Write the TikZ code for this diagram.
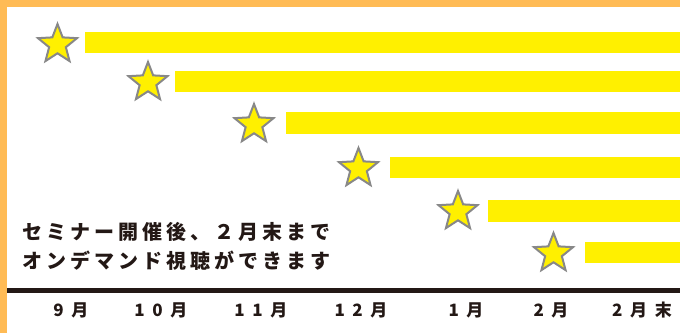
\documentclass[tikz,border=0pt]{standalone}
\usepackage{fontspec}
\newfontfamily\jptext{Noto Sans CJK JP}[LetterSpace=20]
\newfontfamily\jpmonth{Noto Sans CJK JP}[LetterSpace=45]
\definecolor{orangeb}{HTML}{FFBB55}
\definecolor{barY}{HTML}{FFF000}
\definecolor{starG}{HTML}{888888}
\definecolor{inkK}{HTML}{231815}
\tikzset{
  starpath/.style={fill=barY, draw=starG, line width=2pt, line join=miter},
  barfill/.style={fill=barY},
  monthlabel/.style={font=\jpmonth\bfseries\fontsize{17}{18}\selectfont, text=inkK, inner sep=0pt},
  maintext/.style={font=\jptext\bfseries\fontsize{20}{29}\selectfont, text=inkK, align=left, inner sep=0pt}
}
\newcommand{\mystarat}[1]{%
  \draw[starpath, shift={(#1)}] (-90:20.5) -- (-54:8.8) -- (-18:20.5) -- (18:8.8) -- (54:20.5)
    -- (90:8.8) -- (126:20.5) -- (162:8.8) -- (198:20.5) -- (234:8.8) -- cycle;}
\begin{document}
\begin{tikzpicture}[x=1pt,y=-1pt]
\useasboundingbox (0,0) rectangle (680,333);
\fill[white] (0,0) rectangle (680,333);
% orange frame
\fill[orangeb] (0,0) rectangle (680,7);
\fill[orangeb] (0,0) rectangle (7,333);
% bars
\fill[barfill] (85,32) rectangle (680,53);
\fill[barfill] (175,71) rectangle (680,92);
\fill[barfill] (286,112) rectangle (680,134);
\fill[barfill] (390,157) rectangle (680,178);
\fill[barfill] (488,200) rectangle (680,222);
\fill[barfill] (585,242) rectangle (680,263);
% stars
\coordinate (s1) at (57.5,44.5);
\coordinate (s2) at (148,82.5);
\coordinate (s3) at (254,124.5);
\coordinate (s4) at (358.5,168.5);
\coordinate (s5) at (458,211.5);
\coordinate (s6) at (553.5,253.5);
\mystarat{s1}\mystarat{s2}\mystarat{s3}\mystarat{s4}\mystarat{s5}\mystarat{s6}
% text
\node[maintext, anchor=north west] (txt) at (22,222) {セミナー開催後、２月末まで\\オンデマンド視聴ができます};
% axis
\fill[inkK] (7,288) rectangle (680,293);
% months
\node[monthlabel] (m9) at (71,310) {9月};
\node[monthlabel] (m10) at (161,310) {10月};
\node[monthlabel] (m11) at (261,310) {11月};
\node[monthlabel] (m12) at (361,310) {12月};
\node[monthlabel] (m1) at (466,310) {1月};
\node[monthlabel] (m2) at (551,310) {2月};
\node[monthlabel] (m2e) at (642,310) {2月末};
\end{tikzpicture}
\end{document}
